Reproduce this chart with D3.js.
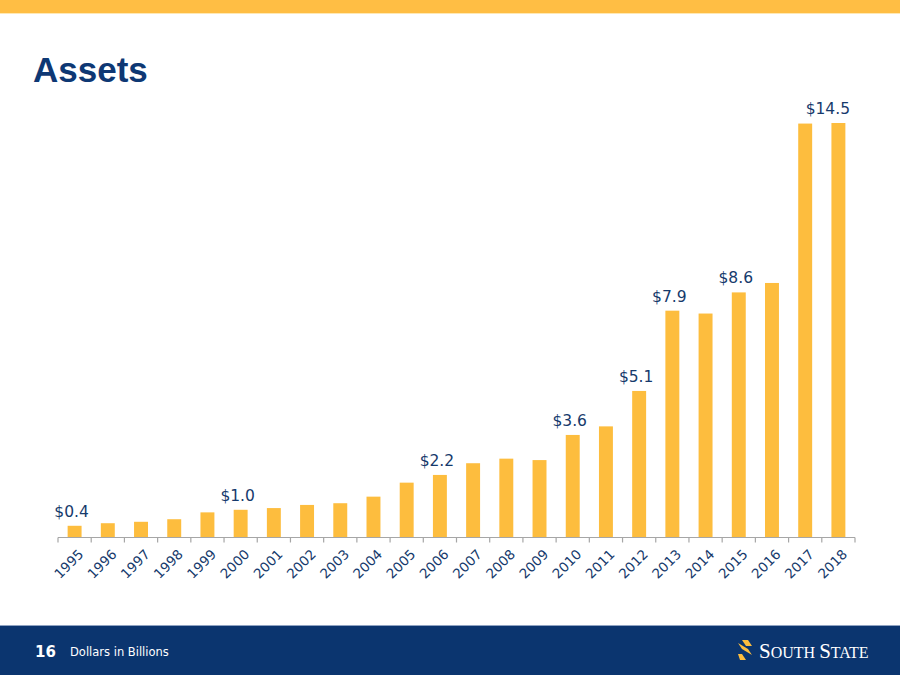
<!DOCTYPE html>
<html><head><meta charset="utf-8">
<script src="https://cdn.jsdelivr.net/npm/d3@7"></script>
<style>html,body{margin:0;padding:0;background:#fff;}svg{display:block;}</style>
</head><body>
<script>
const years = ["1995","1996","1997","1998","1999","2000","2001","2002","2003","2004","2005","2006","2007","2008","2009","2010","2011","2012","2013","2014","2015","2016","2017","2018"];
const assets = [0.41,0.50,0.55,0.64,0.88,0.97,1.03,1.14,1.20,1.43,1.92,2.19,2.60,2.76,2.71,3.59,3.89,5.13,7.94,7.84,8.58,8.91,14.49,14.51];
const valueLabels = ["$0.4",null,null,null,null,"$1.0",null,null,null,null,null,"$2.2",null,null,null,"$3.6",null,"$5.1","$7.9",null,"$8.6",null,null,"$14.5"];
const title = "Assets";
const pageNumber = "16";
const footnote = "Dollars in Billions";

const W = 900, H = 675;
const navy = "#0B356F", gold = "#FDBD3E", textNavy = "#163A6C";
const svg = d3.select("body").append("svg").attr("width", W).attr("height", H);

// top gold band
svg.append("rect").attr("x",0).attr("y",0).attr("width",W).attr("height",13).attr("fill","#FFBE44");
svg.append("rect").attr("x",0).attr("y",13).attr("width",W).attr("height",1).attr("fill","#FFE9B5");

// title
svg.append("text").attr("x",33).attr("y",82).text(title)
  .attr("font-family","Liberation Sans, Arial, sans-serif").attr("font-weight","bold")
  .attr("font-size",35).attr("fill","#0E3874");

const x = d3.scaleBand().domain(years).range([58,855]).paddingInner(0.58).paddingOuter(0.29);
const y = d3.scaleLinear().domain([0,14.51]).range([537.5,123]);

svg.append("g").selectAll("rect").data(years).join("rect")
  .attr("x", d => x(d)).attr("width", x.bandwidth())
  .attr("y", (d,i) => y(assets[i])).attr("height", (d,i) => y(0) - y(assets[i]))
  .attr("fill", gold);

// value labels (kept inside the plot's right edge)
const lbl = svg.append("g").selectAll("text").data(years.filter((d,i)=>valueLabels[i])).join("text")
  .attr("x", d => x(d) + x.bandwidth()/2 - 3)
  .attr("y", d => y(assets[years.indexOf(d)]) - 9)
  .attr("text-anchor","middle")
  .attr("font-family","DejaVu Sans, Verdana, sans-serif").attr("font-size",15.5)
  .attr("fill", textNavy)
  .text(d => valueLabels[years.indexOf(d)]);
lbl.each(function(){
  const b = this.getBBox();
  if (b.x + b.width > 850) d3.select(this).attr("x", 850 - b.width/2);
});

// axis
const axisY = 537.5;
svg.append("line").attr("x1",58).attr("x2",855).attr("y1",axisY).attr("y2",axisY)
  .attr("stroke","#A6A6A6").attr("stroke-width",1.2);
const step = x.step();
const boundaries = d3.range(years.length+1).map(i => 58 + i*step);
svg.append("g").selectAll("line").data(boundaries).join("line")
  .attr("x1",d=>d).attr("x2",d=>d).attr("y1",axisY).attr("y2",axisY+5)
  .attr("stroke","#A6A6A6").attr("stroke-width",1.2);

svg.append("g").selectAll("text").data(years).join("text")
  .attr("transform", d => `translate(${x(d)+x.bandwidth()/2+3},${axisY+11}) rotate(-45)`)
  .attr("text-anchor","end").attr("dy","0.7em")
  .attr("font-family","DejaVu Sans, Verdana, sans-serif").attr("font-size",13.5)
  .attr("fill", textNavy)
  .text(d => d);

// footer
svg.append("rect").attr("x",0).attr("y",625).attr("width",W).attr("height",1).attr("fill","#8FA3C2");
svg.append("rect").attr("x",0).attr("y",626).attr("width",W).attr("height",H-626).attr("fill",navy);
svg.append("text").attr("x",35).attr("y",657).text(pageNumber)
  .attr("font-family","DejaVu Sans, Verdana, sans-serif").attr("font-weight","bold")
  .attr("font-size",15).attr("fill","#fff");
svg.append("text").attr("x",70).attr("y",656).text(footnote)
  .attr("font-family","DejaVu Sans, Verdana, sans-serif")
  .attr("font-size",11.5).attr("fill","#fff");

// logo
const lg = svg.append("g").attr("transform","translate(738,640)");
lg.append("path").attr("d","M4,0 L10,0 L14,6 L8,6 Z").attr("fill",gold);
lg.append("path").attr("d","M0,3 L4,9 L14,15 L10,9 Z").attr("fill",gold);
lg.append("path").attr("d","M0,14 L4,14 L8,20 L2,20 Z").attr("fill",gold);
const lt = svg.append("text").attr("x",759).attr("y",658)
  .attr("font-family","Liberation Serif, Times New Roman, serif").attr("fill","#fff");
lt.append("tspan").attr("font-size",21).text("S");
lt.append("tspan").attr("font-size",16).text("OUTH ");
lt.append("tspan").attr("font-size",21).text("S");
lt.append("tspan").attr("font-size",16).text("TATE");
</script>
</body></html>
